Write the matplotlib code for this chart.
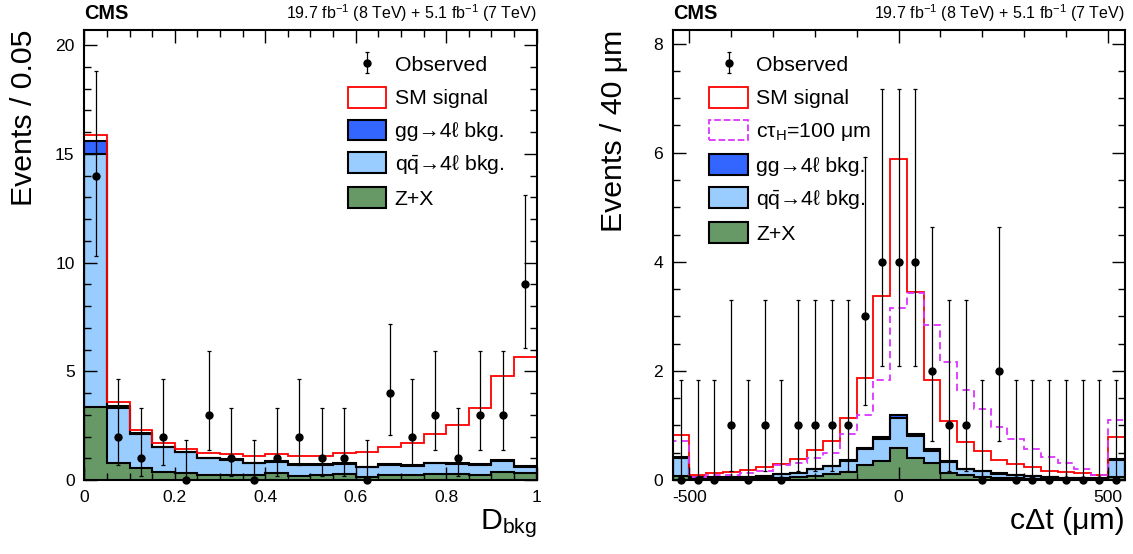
import numpy as np
import matplotlib
matplotlib.use('Agg')
import matplotlib.pyplot as plt
from matplotlib.patches import Patch

plt.rcParams['font.family'] = ['Liberation Sans', 'DejaVu Sans']
plt.rcParams['mathtext.fontset'] = 'custom'
plt.rcParams['mathtext.rm'] = 'Liberation Sans'
plt.rcParams['mathtext.it'] = 'Liberation Sans:italic'
plt.rcParams['mathtext.bf'] = 'Liberation Sans:bold'
plt.rcParams['axes.unicode_minus'] = False

# ---- left panel: D_bkg, 20 bins of 0.05
dbkg_edges = np.linspace(0, 1, 21)
dbkg_obs = [14, 2, 1, 2, 0, 3, 1, 0, 1, 2, 1, 1, 0, 4, 2, 3, 1, 3, 3, 9]
dbkg_zx = [3.37, 0.80, 0.54, 0.35, 0.31, 0.23, 0.23, 0.23, 0.31, 0.20,
           0.23, 0.26, 0.15, 0.23, 0.23, 0.28, 0.28, 0.23, 0.38, 0.34]
dbkg_qq = [11.63, 2.53, 1.57, 1.15, 0.96, 0.77, 0.69, 0.54, 0.53, 0.49,
           0.46, 0.48, 0.43, 0.46, 0.43, 0.49, 0.46, 0.48, 0.51, 0.27]
dbkg_gg = [0.60, 0.07, 0.04, 0.03, 0.03, 0.03, 0.03, 0.03, 0.03, 0.03,
           0.03, 0.03, 0.03, 0.03, 0.03, 0.03, 0.03, 0.03, 0.03, 0.03]
dbkg_sm = [0.26, 0.20, 0.15, 0.18, 0.13, 0.20, 0.23, 0.32, 0.33, 0.40,
           0.40, 0.46, 0.69, 0.81, 1.03, 1.30, 1.76, 2.59, 3.86, 5.00]

# ---- right panel: c*dt, 27 bins of 40 um
ct_edges = np.linspace(-540, 540, 28)
ct_obs = [0, 0, 0, 1, 0, 1, 0, 1, 1, 1, 1, 3, 4, 4, 4, 2, 1, 1, 0, 2,
          0, 0, 0, 0, 0, 0, 0]
ct_zx = [0.07, 0.02, 0.02, 0.02, 0.02, 0.03, 0.04, 0.05, 0.08, 0.11, 0.15,
         0.28, 0.35, 0.58, 0.40, 0.32, 0.12, 0.10, 0.06, 0.04, 0.03, 0.02,
         0.02, 0.01, 0.01, 0.01, 0.06]
ct_qq = [0.33, 0.025, 0.025, 0.035, 0.035, 0.045, 0.065, 0.07, 0.12, 0.14,
         0.205, 0.28, 0.40, 0.56, 0.41, 0.22, 0.205, 0.10, 0.10, 0.075, 0.055,
         0.045, 0.03, 0.025, 0.025, 0.015, 0.30]
ct_gg = [0.02, 0.005, 0.005, 0.005, 0.005, 0.005, 0.005, 0.01, 0.01, 0.01,
         0.015, 0.02, 0.03, 0.05, 0.03, 0.02, 0.015, 0.01, 0.01, 0.005, 0.005,
         0.005, 0.005, 0.005, 0.005, 0.005, 0.02]
ct_sm = [0.41, 0.04, 0.07, 0.09, 0.12, 0.15, 0.18, 0.25, 0.34, 0.46, 0.76,
         1.29, 2.60, 4.69, 2.60, 1.27, 0.75, 0.49, 0.37, 0.25, 0.20, 0.16,
         0.115, 0.10, 0.08, 0.06, 0.40]
ct_tau100 = [0.30, 0.01, 0.04, 0.04, 0.06, 0.09, 0.17, 0.18, 0.20, 0.24, 0.47,
             0.61, 1.05, 1.96, 2.59, 2.28, 1.83, 1.44, 1.13, 0.85, 0.67, 0.50,
             0.375, 0.27, 0.16, 0.06, 0.72]

# 68% Poisson intervals for the observed counts
pois_n = [0, 1, 2, 3, 4, 9, 14]
pois_lo = [0.0, 0.17, 0.71, 1.37, 2.09, 6.06, 10.3]
pois_hi = [1.84, 3.30, 4.64, 5.92, 7.16, 13.1, 18.8]

green = '#669966'
lblue = '#99ccff'
dblue = '#3366ff'
magenta = '#dd33ff'

lumi = r'19.7 fb$^{-1}$ (8 TeV) + 5.1 fb$^{-1}$ (7 TeV)'


def draw_panel(ax, edges, obs, zx, qq, gg, sm, alt=None):
    zx = np.array(zx)
    b1 = zx
    b2 = b1 + np.array(qq)
    b3 = b2 + np.array(gg)
    ax.stairs(b1, edges, baseline=0, fill=True, color=green, lw=0)
    ax.stairs(b2, edges, baseline=b1, fill=True, color=lblue, lw=0)
    ax.stairs(b3, edges, baseline=b2, fill=True, color=dblue, lw=0)
    for top in (b1, b2, b3):
        ax.stairs(top, edges, color='black', lw=1.5)
    ax.stairs(b3 + np.array(sm), edges, color='red', lw=1.3)
    if alt is not None:
        ax.stairs(b3 + np.array(alt), edges, color=magenta, lw=1.3,
                  ls=(0, (4, 2.5)))
    centers = 0.5 * (edges[1:] + edges[:-1])
    obs = np.array(obs)
    lo = np.array([pois_lo[pois_n.index(n)] for n in obs])
    hi = np.array([pois_hi[pois_n.index(n)] for n in obs])
    eb = ax.errorbar(centers, obs, yerr=[obs - lo, hi - obs], fmt='o',
                     color='black', ms=5, elinewidth=0.9, capsize=1.5,
                     capthick=0.9, zorder=5, clip_on=False)
    ax.tick_params(which='both', direction='in', top=True, right=True,
                   labelsize=12.6, pad=7, width=1)
    ax.tick_params(which='major', length=9.5)
    ax.tick_params(which='minor', length=4.8)
    for s in ax.spines.values():
        s.set_linewidth(1.5)
    return eb


fig = plt.figure(figsize=(11.33, 5.54), dpi=100)
axl = fig.add_axes([0.0744, 0.1336, 0.3993, 0.8123])
axr = fig.add_axes([0.5937, 0.1336, 0.3988, 0.8123])

# left
ebl = draw_panel(axl, dbkg_edges, dbkg_obs, dbkg_zx, dbkg_qq, dbkg_gg, dbkg_sm)
axl.set_xlim(0, 1)
axl.set_ylim(0, 20.7)
axl.set_xticks([0, 0.2, 0.4, 0.6, 0.8, 1.0])
axl.set_xticklabels(['0', '0.2', '0.4', '0.6', '0.8', '1'])
axl.set_xticks(np.arange(0, 1.0001, 0.05), minor=True)
axl.set_yticks([0, 5, 10, 15, 20])
axl.set_yticks(np.arange(0, 20.7, 1), minor=True)
axl.set_xlabel(r'D$_{\rm bkg}$', fontsize=21.8, loc='right', labelpad=2)
axl.set_ylabel('Events / 0.05', fontsize=21.8, loc='top', labelpad=12)

# right
ebr = draw_panel(axr, ct_edges, ct_obs, ct_zx, ct_qq, ct_gg, ct_sm, ct_tau100)
axr.set_xlim(-540, 540)
axr.set_ylim(0, 8.25)
axr.set_xticks([-500, 0, 500])
axr.set_xticks(np.arange(-500, 501, 100), minor=True)
axr.set_yticks([0, 2, 4, 6, 8])
axr.set_yticks(np.arange(0, 8.25, 0.5), minor=True)
axr.set_xlabel('cΔt (μm)', fontsize=21.8, loc='right', labelpad=2)
axr.set_ylabel('Events / 40 μm', fontsize=21.8, loc='top', labelpad=18)

# legends
leg_kw = dict(loc='upper left', frameon=False, fontsize=15.3,
              handlelength=1.83, handleheight=1.13, labelspacing=0.53,
              handletextpad=0.38, borderaxespad=0, borderpad=0)
h_sm = Patch(facecolor='white', edgecolor='red', lw=1.3)
h_alt = Patch(facecolor='white', edgecolor=magenta, lw=1.3, ls='--')
h_gg = Patch(facecolor=dblue, edgecolor='black', lw=1.5)
h_qq = Patch(facecolor=lblue, edgecolor='black', lw=1.5)
h_zx = Patch(facecolor=green, edgecolor='black', lw=1.5)

axl.legend([ebl, h_sm, h_gg, h_qq, h_zx],
           ['Observed', 'SM signal', 'gg→4ℓ bkg.', r'q$\bar{\rm q}$→4ℓ bkg.',
            'Z+X'], bbox_to_anchor=(0.582, 0.947), **leg_kw)
axr.legend([ebr, h_sm, h_alt, h_gg, h_qq, h_zx],
           ['Observed', 'SM signal', r'cτ$_{\rm H}$=100 μm', 'gg→4ℓ bkg.',
            r'q$\bar{\rm q}$→4ℓ bkg.', 'Z+X'],
           bbox_to_anchor=(0.081, 0.947), **leg_kw)

# header texts
for ax in (axl, axr):
    ax.text(0.0, 1.024, 'CMS', transform=ax.transAxes, fontsize=14.3,
            fontweight='bold', ha='left', va='baseline')
    ax.text(1.0, 1.024, lumi, transform=ax.transAxes, fontsize=11.5,
            ha='right', va='baseline')

fig.savefig('out.png', dpi=100)
